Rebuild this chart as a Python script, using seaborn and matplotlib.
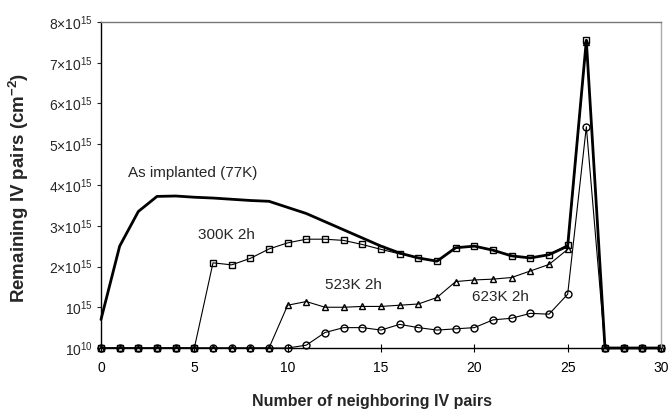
import numpy as np
import pandas as pd
import matplotlib
matplotlib.use("Agg")
import matplotlib.pyplot as plt
import seaborn as sns

sns.set_theme(style="ticks")
plt.rcParams['font.family'] = ['Liberation Sans', 'DejaVu Sans']
plt.rcParams['mathtext.fontset'] = 'custom'
plt.rcParams['mathtext.rm'] = 'Liberation Sans'
plt.rcParams['mathtext.it'] = 'Liberation Sans:italic'
plt.rcParams['mathtext.bf'] = 'Liberation Sans:bold'

# Number of neighboring IV pairs
x = list(range(31))
# values in units of 1e15 cm^-2
as_implanted = [0.70, 2.50, 3.35, 3.72, 3.73, 3.70, 3.68, 3.65, 3.62, 3.60, 3.45, 3.30,
                3.10, 2.90, 2.70, 2.50, 2.33, 2.21, 2.13, 2.46, 2.50, 2.40, 2.26, 2.21,
                2.29, 2.50, 7.55, 0, 0, 0, 0]
k300 = [0, 0, 0, 0, 0, 0, 2.09, 2.04, 2.20, 2.43, 2.58, 2.67, 2.67, 2.64, 2.54, 2.42,
        2.31, 2.21, 2.13, 2.46, 2.50, 2.40, 2.26, 2.21, 2.29, 2.53, 7.55, 0, 0, 0, 0]
k523 = [0, 0, 0, 0, 0, 0, 0, 0, 0, 0, 1.05, 1.14, 1.00, 1.00, 1.02, 1.02, 1.05, 1.08,
        1.24, 1.63, 1.67, 1.69, 1.73, 1.89, 2.05, 2.42, 7.50, 0, 0, 0, 0]
k623 = [0, 0, 0, 0, 0, 0, 0, 0, 0, 0, 0, 0.07, 0.38, 0.50, 0.50, 0.44, 0.58, 0.50, 0.44,
        0.47, 0.50, 0.69, 0.73, 0.85, 0.83, 1.32, 5.43, 0, 0, 0, 0]

y_ticks = [0, 1, 2, 3, 4, 5, 6, 7, 8]
y_ticklabels = [r'$10^{10}$', r'$10^{15}$', r'$2{\times}10^{15}$', r'$3{\times}10^{15}$',
                r'$4{\times}10^{15}$', r'$5{\times}10^{15}$', r'$6{\times}10^{15}$',
                r'$7{\times}10^{15}$', r'$8{\times}10^{15}$']
x_ticks = [0, 5, 10, 15, 20, 25, 30]

fig = plt.figure(figsize=(6.7, 4.11), dpi=100)
ax = fig.add_axes([101/670, 1-348/411, 560/670, 326/411])

df = pd.DataFrame({'x': x, 'as': as_implanted, 'k300': k300, 'k523': k523, 'k623': k623})

common = dict(color='black', linewidth=0.8, markerfacecolor='none',
              markeredgecolor='black', markeredgewidth=1.0, markersize=5, clip_on=False)
sns.lineplot(data=df, x='x', y='k623', marker='o', ax=ax, **common)
sns.lineplot(data=df, x='x', y='k523', marker='^', ax=ax, **common)
sns.lineplot(data=df, x='x', y='k300', marker='s', ax=ax, **common)
sns.lineplot(data=df, x='x', y='as', color='black', linewidth=2.0, ax=ax, clip_on=False)

ax.set_xlim(0, 30)
ax.set_ylim(0, 8)
ax.set_xticks(x_ticks)
ax.set_yticks(y_ticks)
ax.set_yticklabels(y_ticklabels)
ax.tick_params(axis='x', direction='inout', length=6, width=0.8, labelsize=10, pad=6, colors='black')
ax.tick_params(axis='y', direction='out', length=3, width=0.8, labelsize=10, pad=3)
ax.set_xlabel('Number of neighboring IV pairs', fontsize=11.5, fontweight='bold')
ax.xaxis.set_label_coords((372 - 101) / 560, -(401 - 348) / 326)
ax.xaxis.label.set_va('center')
ax.set_ylabel('Remaining IV pairs (cm$^{\\mathbf{-2}}$)', fontsize=13.5, fontweight='bold')
ax.yaxis.set_label_coords(-(101 - 19) / 560, (348 - 188) / 326)
ax.yaxis.label.set_va('center')

for s in ['left', 'bottom']:
    ax.spines[s].set_color('black')
    ax.spines[s].set_linewidth(1.0)
ax.spines['top'].set_color('#777777')
ax.spines['right'].set_color('#aaaaaa')
ax.spines['top'].set_linewidth(1.0)
ax.spines['right'].set_linewidth(1.0)

ax.text(1.45, 4.3, 'As implanted (77K)', fontsize=11, va='center', ha='left')
ax.text(5.2, 2.77, '300K 2h', fontsize=11, va='center', ha='left')
ax.text(12.0, 1.55, '523K 2h', fontsize=11, va='center', ha='left')
ax.text(19.9, 1.24, '623K 2h', fontsize=11, va='center', ha='left')

fig.savefig('out.png', dpi=100)
